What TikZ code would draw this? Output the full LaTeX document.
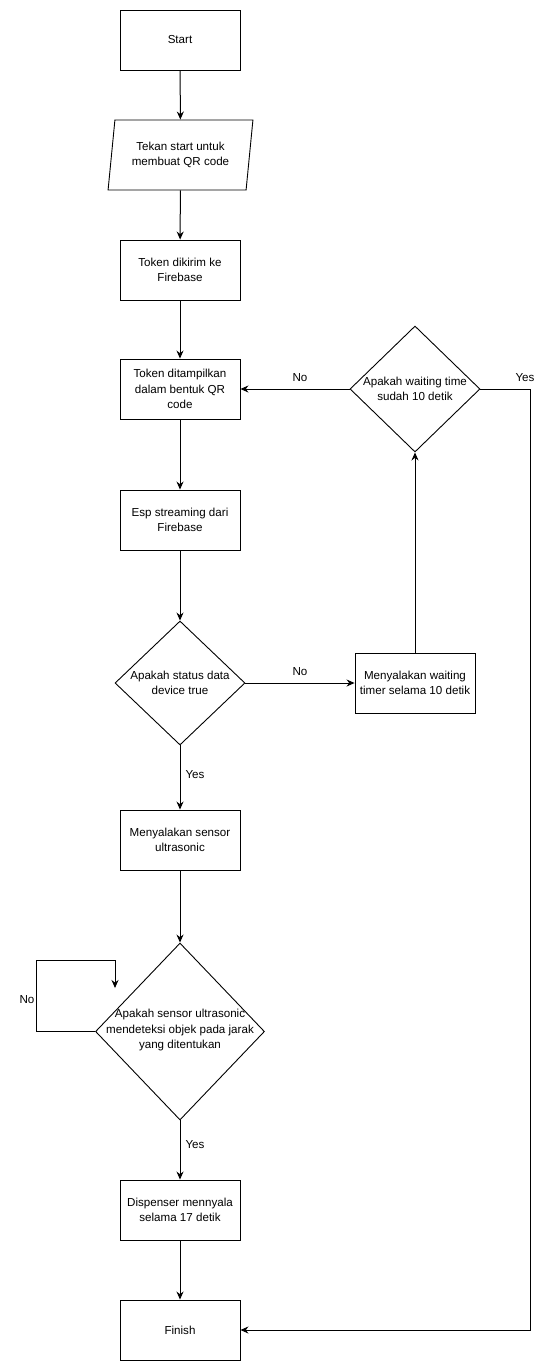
\documentclass[tikz,border=0pt]{standalone}
\usepackage{fontspec}
\setmainfont{Liberation Sans}
\usetikzlibrary{shapes.geometric,arrows.meta}

\begin{document}
\begin{tikzpicture}[x=1pt,y=-1pt,font=\fontsize{11.6}{15.5}\selectfont,
  box/.style={draw, line width=0.9pt, rectangle, minimum width=120, minimum height=60, align=center, inner sep=2pt},
  io/.style={draw, line width=0.9pt, trapezium, trapezium left angle=79, trapezium right angle=101, trapezium stretches=true, minimum width=145, minimum height=70, align=center, inner sep=0pt},
  decision/.style={draw, line width=0.9pt, diamond, inner sep=0pt},
  flow/.style={line width=1pt, -{Stealth[length=8pt,width=7pt]}}]
\useasboundingbox (0,0) rectangle (551,1371);

\node (start) at (180,40) [box] {Start};
\node (input) at (180.5,155) [io] {Tekan start untuk\\membuat QR code};
\node (send) at (180,270) [box] {Token dikirim ke\\Firebase};
\node (show) at (180,389) [box] {Token ditampilkan\\dalam bentuk QR\\code};
\node (stream) at (180,520) [box] {Esp streaming dari\\Firebase};
\node (dec1) at (180,683) [decision, minimum width=130, minimum height=124] {};
\node (dec1txt) at (180,683) [align=center] {Apakah status data\\device true};
\node (wait) at (415,683) [box] {Menyalakan waiting\\timer selama 10 detik};
\node (dec2) at (415,389) [decision, minimum width=130, minimum height=126] {};
\node (dec2txt) at (415,389) [align=center] {Apakah waiting time\\sudah 10 detik};
\node (sensor) at (180,840) [box] {Menyalakan sensor\\ultrasonic};
\node (dec3) at (180,1031.5) [decision, minimum width=169, minimum height=177] {};
\node (dec3txt) at (180,1030) [align=center] {Apakah sensor ultrasonic\\mendeteksi objek pada jarak\\yang ditentukan};
\node (dispense) at (180,1210) [box] {Dispenser mennyala\\selama 17 detik};
\node (finish) at (180,1330) [box] {Finish};

\coordinate (yesturn) at (530,389);
\coordinate (loopl) at (36,960);
\coordinate (looptip) at (115,988);

\node (no1) at (300,672) {No};
\node (no2) at (300,378) {No};
\node (yes2) at (525,378) {Yes};
\node (yes1) at (195,775) {Yes};
\node (no3) at (27,1000) {No};
\node (yes3) at (195,1145) {Yes};

\draw[flow]
(start) to (input);
\draw[flow] (input) to (send);
\draw[flow] (send) to (show);
\draw[flow] (show) to (stream);
\draw[flow] (stream) to (dec1);
\draw[flow] (dec1) to (wait);
\draw[flow] (wait) to (dec2);
\draw[flow] (dec2) to (show);
\draw[flow] (dec2.east) -- (yesturn) |- (finish.east);
\draw[flow] (dec1) to (sensor);
\draw[flow] (sensor) to (dec3);
\draw[flow] (dec3.west) -| (loopl) -| (looptip);
\draw[flow] (dec3) to (dispense);
\draw[flow] (dispense) to (finish);
\end{tikzpicture}
\end{document}
